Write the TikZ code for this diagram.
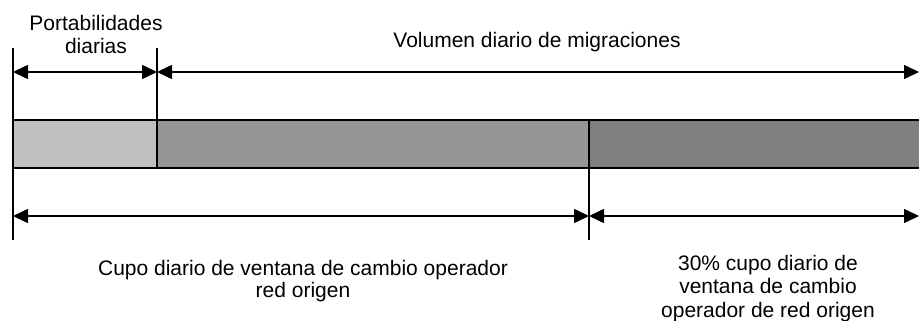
\documentclass[tikz,border=0pt]{standalone}
\usepackage{fontspec}
\setmainfont{Liberation Sans}
\usetikzlibrary{arrows.meta}
\definecolor{barlight}{HTML}{C0C0C0}
\definecolor{barmid}{HTML}{969696}
\definecolor{bardark}{HTML}{808080}

\begin{document}
\begin{tikzpicture}[x=1pt,y=-1pt]
  \tikzstyle{every node}=[inner sep=0pt, align=center, font=\fontsize{21}{23}\selectfont]
  \tikzstyle{tick}=[line width=1.6pt]
  \tikzstyle{span}=[line width=1.6pt, {Triangle[length=15pt,width=14pt]}-{Triangle[length=15pt,width=14pt]}]
  \useasboundingbox (0,0) rectangle (919,321);

  % the bar
  \fill[barlight] (13,120) rectangle (157,168);
  \fill[barmid] (157,120) rectangle (589,168);
  \fill[bardark] (589,120) rectangle (919,168);
  \draw[tick] (13,120) -- (919,120);
  \draw[tick] (13,168) -- (919,168);

  % ticks
  \coordinate (start top) at (13,48);
  \coordinate (start bot) at (13,240);
  \coordinate (port top) at (157,48);
  \coordinate (port bot) at (157,168);
  \coordinate (cupo top) at (589,120);
  \coordinate (cupo bot) at (589,240);
  \draw[tick] (start top) -- (start bot);
  \draw[tick] (port top) -- (port bot);
  \draw[tick] (cupo top) -- (cupo bot);

  % spans
  \coordinate (L1) at (13,72);
  \coordinate (M1) at (157,72);
  \coordinate (R1) at (919,72);
  \coordinate (L2) at (13,216);
  \coordinate (M2) at (589,216);
  \coordinate (R2) at (919,216);
  \draw[span] (L1) -- (M1);
  \draw[span] (M1) -- (R1);
  \draw[span] (L2) -- (M2);
  \draw[span] (M2) -- (R2);

  % labels
  \node[anchor=north] (portab) at (96,14.7) {Portabilidades\\diarias};
  \node[anchor=north] (volumen) at (537,31.7) {Volumen diario de migraciones};
  \node[anchor=north, font=\fontsize{21}{22}\selectfont] (cupo) at (303,259.7)
    {Cupo diario de ventana de cambio operador\\red origen};
  \node[anchor=north, font=\fontsize{21}{23.5}\selectfont] (resto) at (768,254.7)
    {30\% cupo diario de\\ventana de cambio\\operador de red origen};
\end{tikzpicture}
\end{document}
